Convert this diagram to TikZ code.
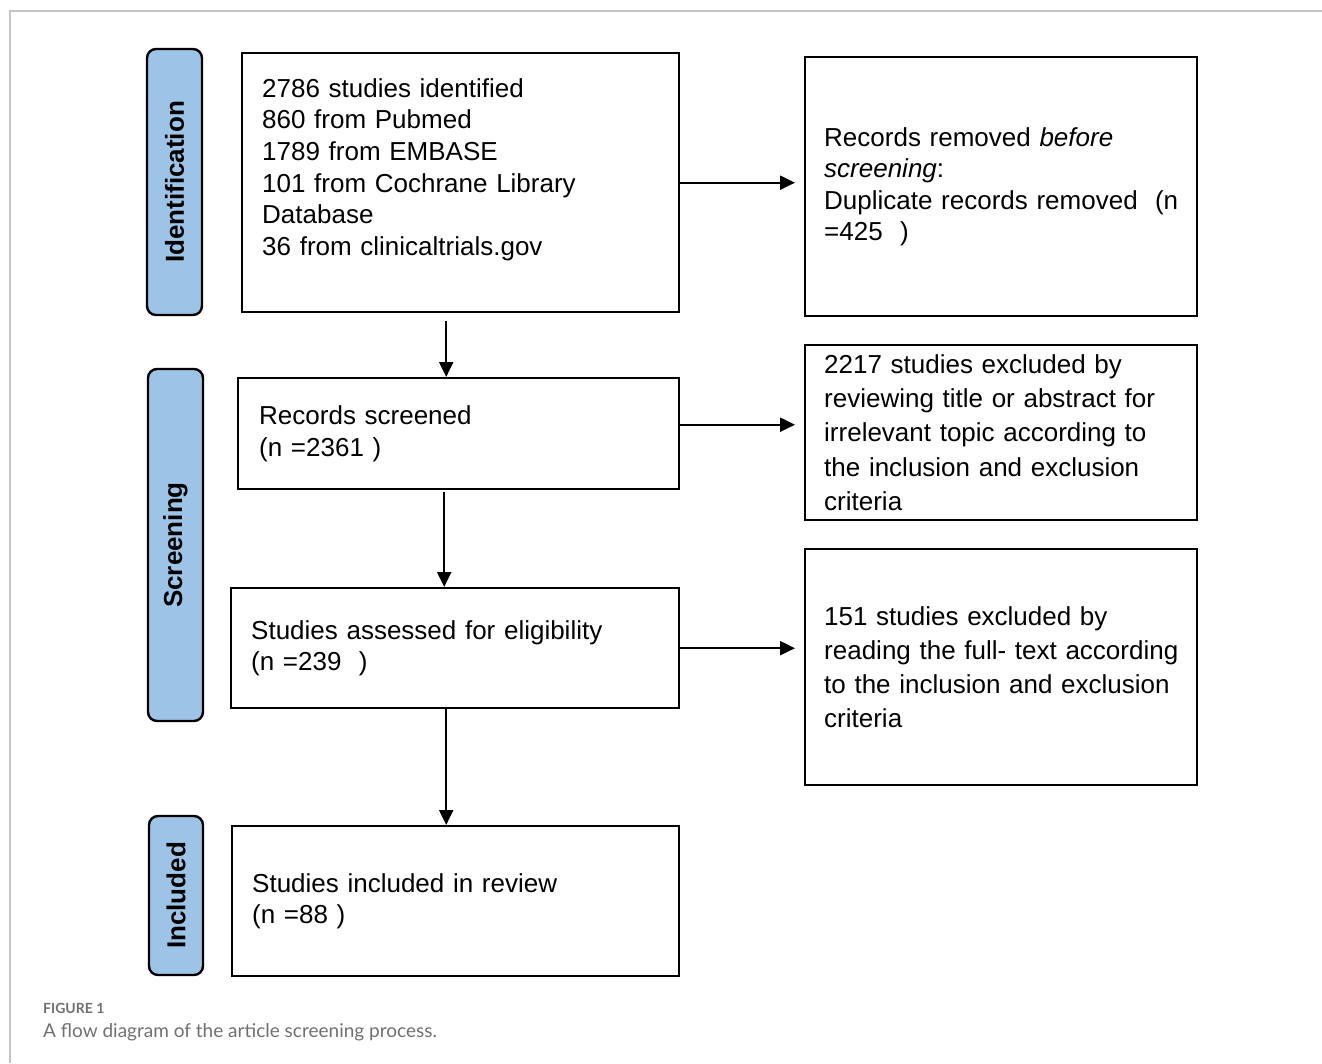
\documentclass[tikz,border=0pt]{standalone}
\usepackage{fontspec}
\setmainfont{Liberation Sans}
\newfontfamily\capfont{Lato}
\usetikzlibrary{arrows.meta}

\definecolor{phaseblue}{HTML}{9DC3E6}
\definecolor{framegray}{HTML}{C4C4C4}
\definecolor{capgray}{HTML}{707070}

\tikzset{
  flowbox/.style={draw, line width=2.4pt, anchor=north west, align=left,
    inner xsep=20pt, inner ysep=0pt, font=\fontsize{26}{31.6}\selectfont},
  widelead/.style={font=\fontsize{26}{34.3}\selectfont},
  phase/.style={draw, line width=2.4pt, fill=phaseblue, rounded corners=9pt,
    rotate=90, inner sep=0pt, font=\bfseries\fontsize{26}{31}\selectfont},
  flowarrow/.style={line width=2.2pt, -{Triangle[length=15pt,width=14pt]}},
}

\begin{document}
\begin{tikzpicture}[x=1pt,y=-1pt]
	\useasboundingbox (0,0) rectangle (1322,1063);
	%\draw[help lines] (0,0) grid[step=100] (1322,1063);
	\draw[framegray, line width=1.5pt] (10,1063) -- (10,11) -- (1322,11);

	% phase labels
	\node[phase, minimum width=266pt, minimum height=55pt] (identphase) at (174.5,182) {Identification};
	\node[phase, minimum width=352pt, minimum height=55pt] (screenphase) at (175.5,545) {Screening};
	\node[phase, minimum width=159pt, minimum height=54pt] (inclphase) at (176,895.5) {Included};

	% main column
	\node[flowbox, text width=397pt, minimum height=259pt] (found) at (241,52)
		{2786 studies identified\\860 from Pubmed\\1789 from EMBASE\\101 from Cochrane Library\\Database\\36 from clinicaltrials.gov\\ \mbox{}};
	\node[flowbox, inner xsep=21pt, text width=399pt, minimum height=111pt] (recs) at (237,377)
		{Records screened\\(n =2361 )};
	\node[flowbox, text width=408pt, minimum height=120pt] (elig) at (230,587)
		{Studies assessed for eligibility\\(n =239\ \ )};
	\node[flowbox, text width=407pt, minimum height=150pt] (incl) at (231,825)
		{Studies included in review\\(n =88 )};

	% excluded column
	\node[flowbox, inner xsep=19pt, text width=354pt, minimum height=259pt] (dupl) at (804,56)
		{Records removed \textit{before}\\\textit{screening}:\\\mbox{Duplicate records removed \ (n}\\=425 \ )};
	\node[flowbox, widelead, inner xsep=19pt, text width=354pt, minimum height=175pt] (exclone) at (804,344)
		{2217 studies excluded by\\\mbox{reviewing title or abstract for}\\irrelevant topic according to\\the inclusion and exclusion\\criteria};
	\node[flowbox, widelead, inner xsep=19pt, text width=354pt, minimum height=236pt] (excltwo) at (804,548)
		{151 studies excluded by\\\mbox{reading the full- text according}\\\mbox{to the inclusion and exclusion}\\criteria};

	% arrows
	\draw[flowarrow, shorten >=9pt] (found.east) -- (found.east -| dupl.west);
	\draw[flowarrow, shorten >=9pt] ([yshift=9pt]recs.east) -- ([yshift=9pt]recs.east -| exclone.west);
	\draw[flowarrow, shorten >=9pt] (elig.east) -- (elig.east -| excltwo.west);
	\coordinate (downone) at ([xshift=-14.5pt,yshift=-8pt]found.south);
	\coordinate (downtwo) at ([xshift=-14.5pt,yshift=-2pt]recs.south);
	\coordinate (downthree) at ([xshift=-9pt]elig.south);
	\draw[flowarrow] (downone) -- (downone |- recs.north);
	\draw[flowarrow] (downtwo) -- (downtwo |- elig.north);
	\draw[flowarrow] (downthree) -- (downthree |- incl.north);

	% caption
	\node[anchor=base west, inner sep=0pt, text=capgray, font=\capfont\bfseries\fontsize{14}{16}\selectfont] (figlabel) at (43,1013) {FIGURE 1};
	\node[anchor=base west, inner sep=0pt, text=capgray, font=\capfont\fontsize{19}{22}\selectfont] (figtext) at (43,1037) {A flow diagram of the article screening process.};
\end{tikzpicture}
\end{document}
